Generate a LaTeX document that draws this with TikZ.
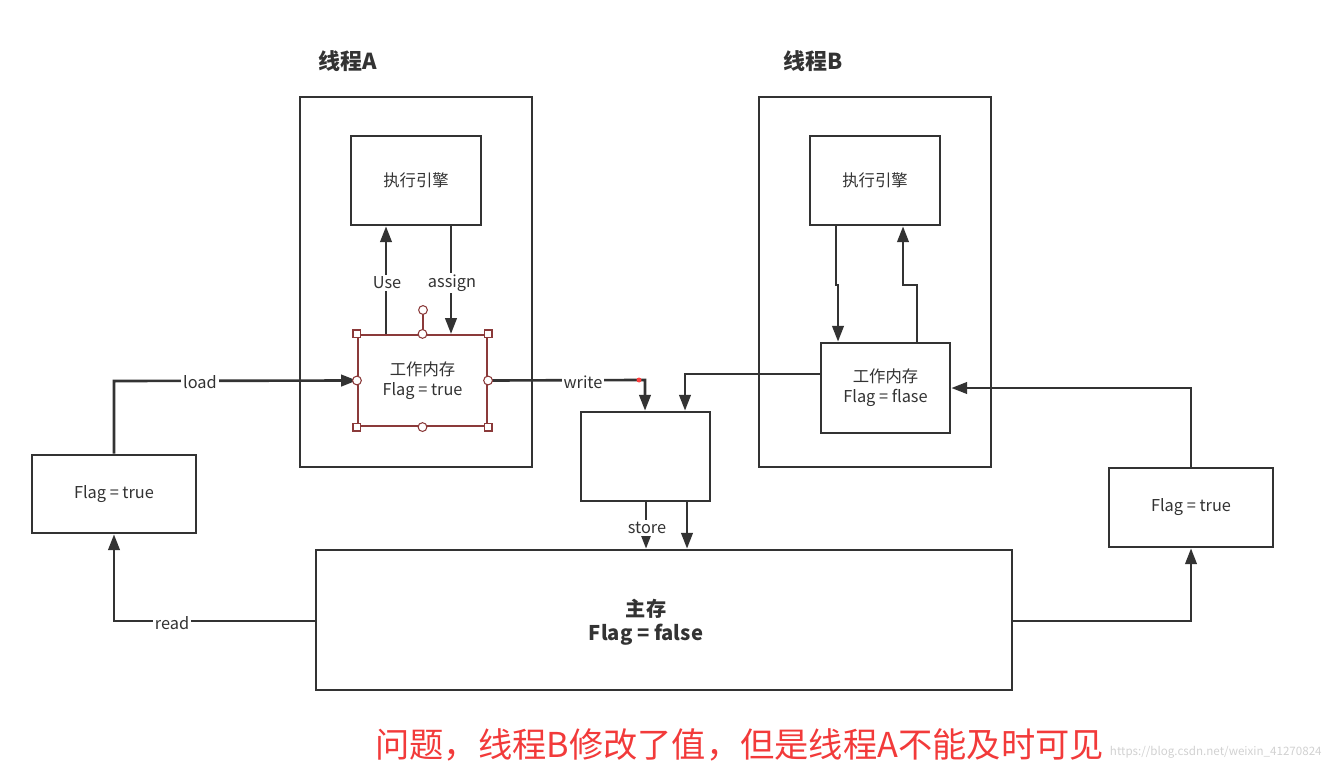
\documentclass[tikz,border=0pt]{standalone}
\usepackage{fontspec}
\setmainfont{Noto Sans CJK SC}
\usetikzlibrary{arrows.meta}
\definecolor{ln}{HTML}{333333}
\definecolor{txt}{HTML}{333333}
\definecolor{sel}{HTML}{8B3A3A}
\definecolor{redtxt}{HTML}{F23A3A}
\tikzset{
  box/.style={draw=ln, line width=1.5pt, fill=white, inner sep=0pt},
  conn/.style={draw=ln, line width=1.5pt, -{Triangle[length=9pt,width=6.5pt]}},
  lbl/.style={fill=white, text=txt, font=\fontsize{9.3}{10}\selectfont, inner sep=1pt},
  btxt/.style={text=txt, font=\fontsize{9.3}{11.5}\selectfont, align=center},
  title/.style={text=ln, font=\fontsize{12.5}{14}\selectfont\bfseries},
  hsq/.style={draw=sel, fill=white, line width=0.6pt, minimum size=4.5pt, inner sep=0pt},
  hci/.style={draw=sel, fill=white, line width=0.6pt, circle, minimum size=5pt, inner sep=0pt},
}
\begin{document}
\begin{tikzpicture}[x=0.02cm, y=-0.02cm]
\useasboundingbox (0,0) rectangle (1331,773);
% Thread A
\node[title] (tA) at (348,61) {线程A};
\draw[box] (300,97) rectangle (532,467);
\node[box, minimum width=130*0.02cm, minimum height=89*0.02cm] (Aeng) at (416,180.5) {};
\node[btxt] at (Aeng) {执行引擎};
\node[draw=sel, line width=1.2pt, fill=white, minimum width=129*0.02cm, minimum height=91*0.02cm, inner sep=0pt] (Amem) at (422.5,380.5) {};
\node[btxt] at (Amem) {工作内存\\Flag = true};
% Thread B
\node[title] (tB) at (813,61) {线程B};
\draw[box] (759,97) rectangle (991,467);
\node[box, minimum width=130*0.02cm, minimum height=89*0.02cm] (Beng) at (875,180.5) {};
\node[btxt] at (Beng) {执行引擎};
\node[box, minimum width=129*0.02cm, minimum height=90*0.02cm] (Bmem) at (885.5,388) {};
\node[btxt] at (Bmem) {工作内存\\Flag = flase};
% middle box
\node[box, minimum width=129*0.02cm, minimum height=89*0.02cm] (mid) at (645.5,456.5) {};
% main memory
\node[box, minimum width=696*0.02cm, minimum height=140*0.02cm] (main) at (664,620) {};
\node[text=ln, font=\fontsize{11.5}{13.5}\selectfont\bfseries, align=center] at (646,622) {主存\\Flag = false};
% side boxes
\node[box, minimum width=164*0.02cm, minimum height=78*0.02cm] (L) at (114,494) {};
\node[btxt] at (L) {Flag = true};
\node[box, minimum width=164*0.02cm, minimum height=79*0.02cm] (R) at (1191,507.5) {};
\node[btxt] at (R) {Flag = true};
% Thread A internal connectors
\draw[conn] (Amem.north -| 386,0) -- (Aeng.south -| 386,0);
\node[lbl] at (387,283) {Use};
\draw[conn] (Aeng.south -| 451,0) -- (Amem.north -| 451,0);
\node[lbl] at (452,283) {assign};
% Thread B internal connectors
\draw[conn] (Beng.south -| 836,0) -- (836,285) -- (838,285) -- (Bmem.north -| 838,0);
\draw[conn] (Bmem.north -| 917,0) -- (917,285) -- (903,285) -- (Beng.south -| 903,0);
% load / read
\coordinate (ld) at (114,381);
\draw[conn] (L.north) -- (ld) -- (Amem.west);
\node[lbl] at (200,382) {load};
\coordinate (rd) at (114,621);
\draw[conn] (main.west |- rd) -- (rd) -- (L.south);
\node[lbl] at (172,623) {read};
% write
\coordinate (wr) at (645,380);
\draw[conn] (Amem.east) -- (wr) -- (mid.north -| wr);
\node[lbl] at (583,382) {write};
\fill[red!75!white] (639,380) circle (2.5);
% B mem to middle
\coordinate (bw) at (685,374);
\draw[conn] (Bmem.west |- bw) -- (bw) -- (mid.north -| bw);
% store
\draw[conn] (mid.south -| 646,0) -- (main.north -| 646,0);
\node[lbl] at (647,528) {store};
\draw[conn] (mid.south -| 687,0) -- (main.north -| 687,0);
% right side
\coordinate (rr) at (1191,621);
\draw[conn] (main.east |- rr) -- (rr) -- (R.south);
\coordinate (ru) at (1191,388);
\draw[conn] (R.north) -- (ru) -- (Bmem.east |- ru);
% selection handles on A working memory
\draw[sel, line width=0.6pt] (423,335) -- (423,310);
\node[hci] at (423,310) {};
\node[hsq] at (Amem.north west) {};
\node[hsq] at (Amem.north east) {};
\node[hsq] at (Amem.south west) {};
\node[hsq] at (Amem.south east) {};
\node[hci] at (Amem.north) {};
\node[hci] at (Amem.south) {};
\node[hci] at (Amem.west) {};
\node[hci] at (Amem.east) {};
% bottom caption
\node[text=redtxt, font=\fontsize{19.5}{22}\selectfont, anchor=west, inner sep=0pt] (cap) at (375,745) {问题，线程B修改了值，但是线程A不能及时可见};
\node[text=black!18, font=\fontsize{6.6}{8}\selectfont, anchor=east, inner sep=0pt] (wm) at (1322,752) {https://blog.csdn.net/weixin\_41270824};
\end{tikzpicture}
\end{document}
